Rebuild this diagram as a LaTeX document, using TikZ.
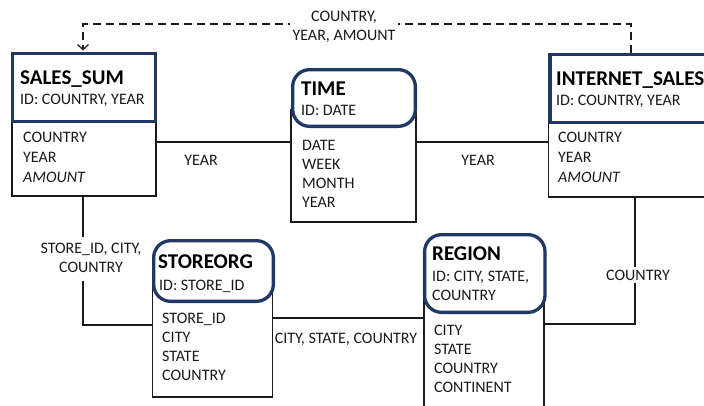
\documentclass[tikz,border=0pt]{standalone}
\usepackage{fontspec}
\setmainfont{Carlito}
\usetikzlibrary{arrows.meta}
\definecolor{hdrblue}{HTML}{1F3864}
\definecolor{ink}{HTML}{1A1A1A}
% stacked lines; the baseline of the first row is the box baseline
\newcommand{\rows}[2][l]{\begin{tabular}[t]{@{}#1@{}}#2\end{tabular}}
\begin{document}
\begin{tikzpicture}[x=1pt,y=-1pt,
  hdr/.style={draw=hdrblue, line width=3.3pt, fill=white, inner sep=0pt},
  hdrround/.style={hdr, rounded corners=17pt},
  body/.style={draw=ink, line width=1.3pt, inner sep=0pt},
  title/.style={anchor=base west, inner sep=0pt, font=\fontsize{21}{24}\selectfont\bfseries, text=black},
  field/.style={anchor=base west, inner sep=0pt, font=\fontsize{16}{19}\selectfont, text=ink},
  fieldwide/.style={field, font=\fontsize{16}{20}\selectfont},
  link/.style={draw=ink, line width=1.3pt},
  lbl/.style={inner sep=0pt, anchor=base, font=\fontsize{16}{19}\selectfont, text=ink},
  gaplbl/.style={lbl, fill=white, inner sep=3pt}
]
\useasboundingbox (0,0) rectangle (704,405);
\clip (0,0) rectangle (704,405);

% attribute boxes
\node[body, minimum width=144pt, minimum height=75pt] (ssb) at (84,158.5) {};
\node[body, minimum width=125pt, minimum height=112pt] (timeb) at (353.5,166) {};
\node[body, minimum width=171.5pt, minimum height=75pt] (isb) at (634,159.5) {};
\node[body, minimum width=120.2pt, minimum height=112pt] (sob) at (212.6,341) {};
\node[body, minimum width=120pt, minimum height=125pt] (regb) at (484,357.5) {};

% entity headers
\node[hdr, minimum width=142.7pt, minimum height=67.7pt] (ssh) at (84,87.5) {};
\node[hdrround, minimum width=122.7pt, minimum height=56.7pt] (timeh) at (354,98) {};
\node[hdr, minimum width=168pt, minimum height=67.7pt] (ish) at (634,88.5) {};
\node[hdrround, minimum width=119.7pt, minimum height=60.7pt] (soh) at (213.5,271) {};
\node[hdrround, minimum width=120.4pt, minimum height=77.7pt] (regh) at (484.8,273.5) {};

% relationships
\draw[link] (ssb.east |- 0,142) -- (timeb.west |- 0,142);
\draw[link] (timeb.east |- 0,142) -- (isb.west |- 0,142);
\draw[link] (ssb.south -| 83,0) |- (sob.west |- 0,325);
\draw[link] (sob.east |- 0,318) -- (regb.west |- 0,318);
\draw[link] (isb.south -| 635,0) |- (regb.east |- 0,324);
\coordinate (bend) at (83,24);
\draw[link, line width=1.2pt, dash pattern=on 8pt off 5pt,
      -{Straight Barb[length=5pt,width=11pt]}, shorten >=1.6pt]
  (ish.north -| 631,0) |- (bend) -- (ssh.north -| bend);

% entity texts
\node[title] (sst) at (20,84) {SALES\_SUM};
\node[field] (ssi) at (20,104.5) {ID: COUNTRY, YEAR};
\node[fieldwide] (ssf) at (23,142) {\rows{COUNTRY\\YEAR\\\textit{AMOUNT}}};

\node[title] (timet) at (301,95) {TIME};
\node[field] (timei) at (301,115) {ID: DATE};
\node[field] (timef) at (302,150) {\rows{DATE\\WEEK\\MONTH\\YEAR}};

\node[title] (ist) at (556,85) {INTERNET\_SALES};
\node[field] (isi) at (556,105) {ID: COUNTRY, YEAR};
\node[fieldwide] (isf) at (558,142) {\rows{COUNTRY\\YEAR\\\textit{AMOUNT}}};

\node[title] (sot) at (158,268) {STOREORG};
\node[field] (soi) at (159,290) {ID: STORE\_ID};
\node[field] (sof) at (162,323) {\rows{STORE\_ID\\CITY\\STATE\\COUNTRY}};

\node[title] (regt) at (432,260) {REGION};
\node[field] (regi) at (432,281.5) {\rows{ID: CITY, STATE,\\COUNTRY}};
\node[field] (regf) at (434,335) {\rows{CITY\\STATE\\COUNTRY\\CONTINENT}};

% relationship labels
\node[gaplbl] (lt) at (344,21) {\rows[c]{COUNTRY,\\YEAR, AMOUNT}};
\node[lbl] (ly1) at (201,165) {YEAR};
\node[lbl] (ly2) at (478,165) {YEAR};
\node[gaplbl] (ll) at (91,253) {\rows[c]{STORE\_ID, CITY,\\COUNTRY}};
\node[lbl] (lm) at (346,343) {CITY, STATE, COUNTRY};
\node[gaplbl] (lr) at (638,280) {COUNTRY};
\end{tikzpicture}
\end{document}
